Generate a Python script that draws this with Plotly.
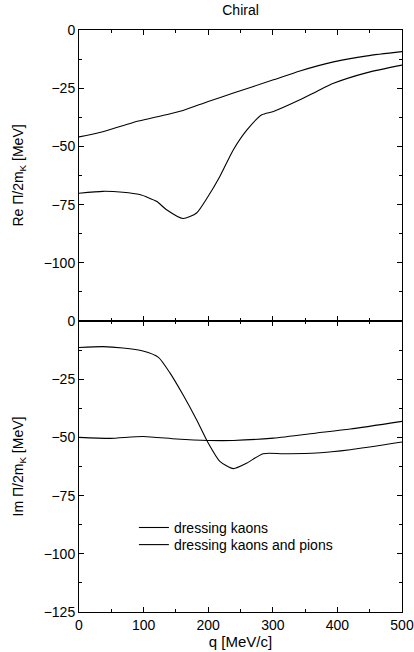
import plotly.graph_objects as go

# Re part (top panel)
q_re_k = [0, 32, 84, 135, 161, 200, 239, 301, 342, 394, 446, 500]
re_k = [-45.9, -44.0, -39.7, -36.4, -34.6, -30.7, -27.1, -21.4, -17.6, -13.7, -11.1, -9.3]

q_re_kp = [0, 37, 68, 94, 120, 135, 161, 182, 200, 218, 239, 260, 283, 301, 342, 368, 394, 446, 500]
re_kp = [-70.1, -69.3, -69.7, -70.7, -73.6, -77.1, -81.0, -78.6, -71.4, -62.9, -51.4, -42.9, -36.4, -35.0, -30.0, -26.4, -22.9, -18.3, -15.1]

# Im part (bottom panel)
q_im_k = [0, 48, 99, 151, 200, 239, 301, 368, 420, 500]
im_k = [-50.0, -50.4, -49.6, -50.7, -51.3, -51.3, -50.3, -48.1, -46.4, -43.1]

q_im_kp = [0, 37, 68, 99, 123, 141, 161, 182, 200, 218, 239, 260, 285, 316, 368, 420, 500]
im_kp = [-11.4, -11.0, -11.6, -12.9, -15.6, -22.4, -31.7, -42.4, -52.4, -60.3, -63.4, -61.0, -57.0, -57.0, -56.7, -55.3, -52.0]

top_ticks = [0, -25, -50, -75, -100]
bot_ticks = [0, -25, -50, -75, -100, -125]
x_ticks = [0, 100, 200, 300, 400, 500]

FONT = "Liberation Sans, Arial, sans-serif"
line = dict(color="black", width=1.1, shape="spline", smoothing=0.6)

fig = go.Figure()
fig.add_trace(go.Scatter(x=q_re_k, y=re_k, mode="lines", line=line, xaxis="x", yaxis="y", showlegend=False))
fig.add_trace(go.Scatter(x=q_re_kp, y=re_kp, mode="lines", line=line, xaxis="x", yaxis="y", showlegend=False))
fig.add_trace(go.Scatter(x=q_im_kp, y=im_kp, mode="lines", line=line, xaxis="x2", yaxis="y2",
                         name="dressing kaons", legend="legend"))
fig.add_trace(go.Scatter(x=q_im_k, y=im_k, mode="lines", line=line, xaxis="x2", yaxis="y2",
                         name="dressing kaons and pions", legend="legend2"))

axcommon = dict(showline=True, linecolor="black", linewidth=1, mirror="allticks", ticks="inside",
                ticklen=5, tickcolor="black", showgrid=False, zeroline=False, automargin=False,
                tickfont=dict(family=FONT, size=14, color="black"))
leg = dict(xanchor="left", yanchor="top", bgcolor="rgba(0,0,0,0)",
           font=dict(family=FONT, size=14, color="black"), itemwidth=30)

fig.update_layout(
    width=414, height=652,
    margin=dict(l=79, r=12, t=30, b=40),
    plot_bgcolor="white", paper_bgcolor="white",
    font=dict(family=FONT, size=14, color="black"),
    title=dict(text="Chiral", x=0.581, xanchor="center", y=0.984, yanchor="middle",
               font=dict(family=FONT, size=14, color="black")),
    xaxis=dict(domain=[0, 1], range=[0, 500], anchor="y", tickvals=x_ticks, showticklabels=False,
               minor=dict(dtick=50, ticks="inside", ticklen=3, tickcolor="black"), **axcommon),
    yaxis=dict(domain=[0.5, 1], range=[-125, 0], anchor="x", tickvals=top_ticks,
               minor=dict(dtick=12.5, ticks="inside", ticklen=3, tickcolor="black"),
               title=dict(text="Re Π/2m<sub>K</sub> [MeV]", font=dict(family=FONT, size=14), standoff=16), **axcommon),
    xaxis2=dict(domain=[0, 1], range=[0, 500], anchor="y2", tickvals=x_ticks,
                minor=dict(dtick=50, ticks="inside", ticklen=3, tickcolor="black"),
                title=dict(text="q [MeV/c]", font=dict(family=FONT, size=15), standoff=2), **axcommon),
    yaxis2=dict(domain=[0, 0.5], range=[-125, 0], anchor="x2", tickvals=bot_ticks,
                minor=dict(dtick=12.5, ticks="inside", ticklen=3, tickcolor="black"),
                title=dict(text="Im Π/2m<sub>K</sub> [MeV]", font=dict(family=FONT, size=14), standoff=16), **axcommon),
    legend=dict(x=0.17, y=0.172, **leg),
    legend2=dict(x=0.17, y=0.1426, **leg),
)

fig.write_html("out.html", config={"displayModeBar": False},
               post_script="document.body.style.margin='0';")
